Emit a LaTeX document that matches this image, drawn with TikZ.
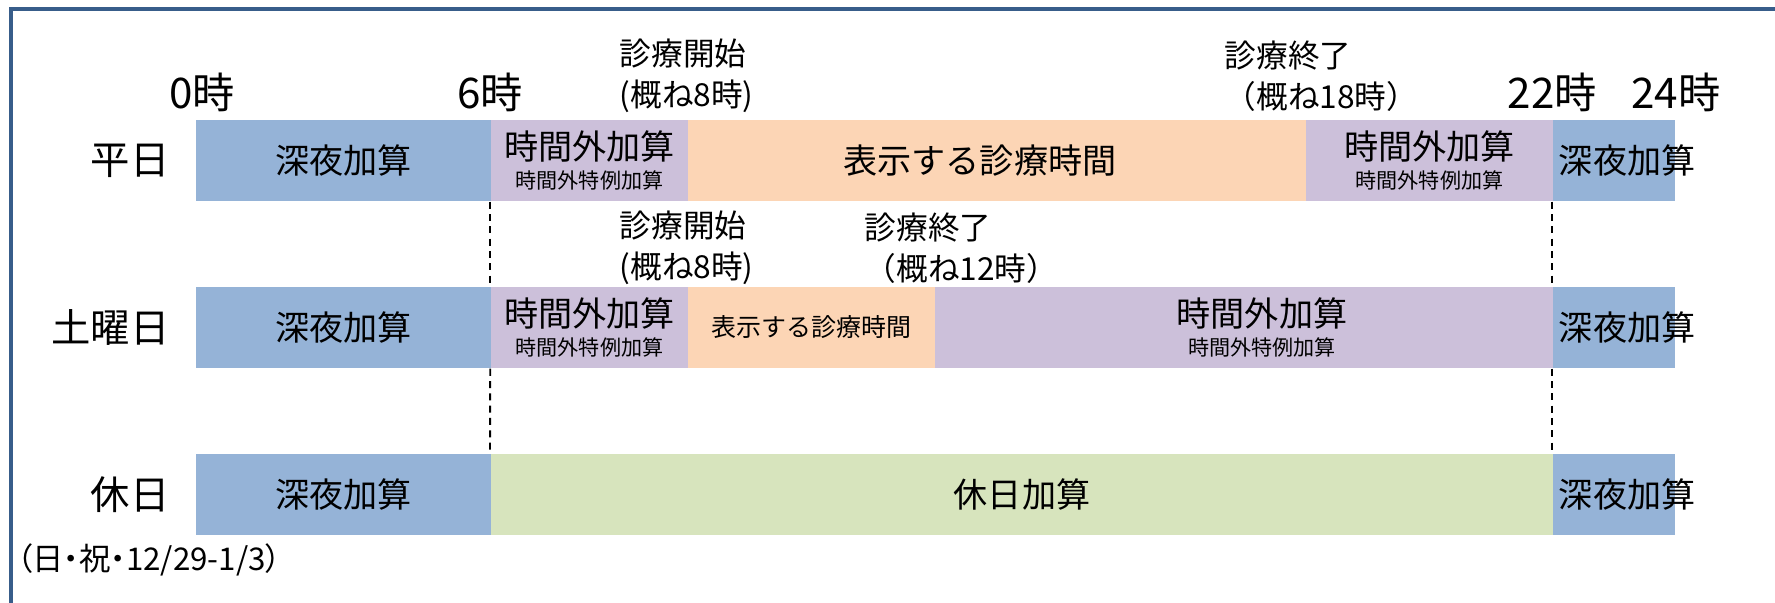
\documentclass[tikz,border=0pt]{standalone}
\usepackage{fontspec}
\setmainfont{Noto Sans CJK JP}
\usetikzlibrary{positioning}
\definecolor{yakanblue}{HTML}{95B3D7}
\definecolor{jikanpurple}{HTML}{CCC0DA}
\definecolor{shinryoorange}{HTML}{FCD5B5}
\definecolor{kyujitsugreen}{HTML}{D7E4BD}
\definecolor{frameblue}{HTML}{385D8A}
\newcommand{\barfont}{\fontsize{9.7}{8.3}\selectfont}
\newcommand{\notefont}{\fontsize{6}{7}\selectfont}
\newcommand{\jikangai}{時間外加算\\{\notefont 時間外特例加算}}
\tikzstyle{seg} = [rectangle, inner sep=0pt, minimum height=0.81cm,
    align=center, font=\barfont]
\tikzstyle{yakan} = [seg, fill=yakanblue]
\tikzstyle{jikan} = [seg, fill=jikanpurple]
\tikzstyle{shinryo} = [seg, fill=shinryoorange]
\tikzstyle{kyujitsu} = [seg, fill=kyujitsugreen]
\tikzstyle{hour} = [inner sep=0pt, anchor=base, font=\fontsize{12}{14}\selectfont]
\tikzstyle{dayname} = [inner sep=0pt, anchor=east, font=\fontsize{11.2}{13}\selectfont]
\tikzstyle{annot} = [inner sep=0pt, anchor=west, align=left,
    font=\fontsize{9}{11.6}\selectfont]
\tikzstyle{guide} = [dash pattern=on 2pt off 1.5pt, line width=0.55pt]

\begin{document}
\begin{tikzpicture}[x=0.01cm, y=-0.01cm]
  \useasboundingbox (0,0) rectangle (1775,603);
  \draw[line width=1.15pt, draw=frameblue] (11,603) -- (11,9) -- (1775,9);

  % weekday
  \node[yakan, minimum width=2.95cm] (h1) at (343.5,160.5) {深夜加算};
  \node[jikan, minimum width=1.97cm] (h2) at (589.5,160.5) {\jikangai};
  \node[shinryo, minimum width=6.18cm] (h3) at (997,160.5) {};
  \node[seg, xshift=-0.17cm] (h3t) at (h3.center) {表示する診療時間};
  \node[jikan, minimum width=2.47cm] (h4) at (1429.5,160.5) {\jikangai};
  \node[yakan, minimum width=1.22cm] (h5) at (1614,160.5) {};
  \node[seg, anchor=west, xshift=0.06cm] (h5t) at (h5.west) {深夜加算};

  % saturday
  \node[yakan, minimum width=2.95cm] (s1) at (343.5,327.5) {深夜加算};
  \node[jikan, minimum width=1.97cm] (s2) at (589.5,327.5) {\jikangai};
  \node[shinryo, minimum width=2.47cm, font=\fontsize{7.1}{8}\selectfont]
    (s3) at (811.5,327.5) {表示する診療時間};
  \node[jikan, minimum width=6.18cm] (s4) at (1244,327.5) {};
  \node[seg, xshift=0.18cm] (s4t) at (s4.center) {\jikangai};
  \node[yakan, minimum width=1.22cm] (s5) at (1614,327.5) {};
  \node[seg, anchor=west, xshift=0.06cm] (s5t) at (s5.west) {深夜加算};

  % holiday
  \node[yakan, minimum width=2.95cm] (k1) at (343.5,494.5) {深夜加算};
  \node[kyujitsu, minimum width=10.62cm] (k2) at (1022,494.5) {休日加算};
  \node[yakan, minimum width=1.22cm] (k3) at (1614,494.5) {};
  \node[seg, anchor=west, xshift=0.06cm] (k3t) at (k3.west) {深夜加算};

  % hours
  \node[hour, xshift=0.07cm, yshift=0.11cm] (t0) at (h1.north west) {0時};
  \node[hour, yshift=0.11cm] (t6) at (h2.north west) {6時};
  \node[hour, yshift=0.11cm] (t22) at (h5.north west) {22時};
  \node[hour, yshift=0.11cm] (t24) at (h5.north east) {24時};

  % days
  \node[dayname, xshift=-0.25cm] (d1) at (h1.west) {平日};
  \node[dayname, xshift=-0.25cm] (d2) at (s1.west) {土曜日};
  \node[dayname, xshift=-0.25cm] (d3) at (k1.west) {休日};
  \node[inner sep=0pt, anchor=west,
    font=\fontsize{8.9}{10}\selectfont\addfontfeatures{RawFeature=+palt}]
    (d3n) at (16,560) {（日・祝・12/29-1/3）};

  % opening hours
  \node[annot] (st1) at (619,76) {診療開始\\(概ね8時)};
  \node[annot] (en1) at (1224,76) {診療終了\\（概ね18時）};
  \node[annot] (st2) at (619,248) {診療開始\\(概ね8時)};
  \node[annot] (en2) at (864,248) {診療終了\\（概ね12時）};

  \draw[guide] (h2.south west) -- (s2.north west);
  \draw[guide] (s2.south west) -- (k2.north west);
  \draw[guide] (h5.south west) -- (s5.north west);
  \draw[guide] (s5.south west) -- (k3.north west);
\end{tikzpicture}
\end{document}
